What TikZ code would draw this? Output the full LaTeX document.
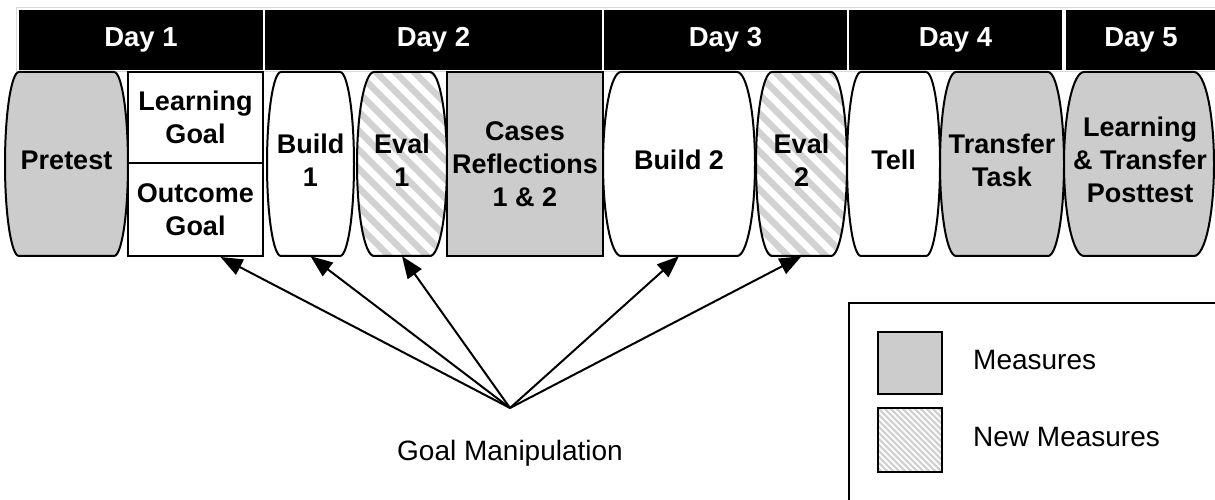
\documentclass[tikz,border=0pt]{standalone}
\usepackage{fontspec}
\setmainfont{Liberation Sans}
\usetikzlibrary{arrows.meta}
\definecolor{measgray}{HTML}{CCCCCC}
\definecolor{stripegray}{HTML}{D2D2D2}
\definecolor{hdrline}{HTML}{D8D8D8}
% barrel outline: #1 left, #2 right, #3 corner inset, #4 path options
\newcommand\brl[4]{\path[#4] ({#1+#3},428) -- ({#2-#3},428) arc[start angle=90,end angle=-90,x radius=#3,y radius=92] -- ({#1+#3},244) arc[start angle=270,end angle=90,x radius=#3,y radius=92] -- cycle;}
\newcommand\hatchbrl[3]{%
  \begin{scope}
    \clip ({#1+#3},428) -- ({#2-#3},428) arc[start angle=90,end angle=-90,x radius=#3,y radius=92] -- ({#1+#3},244) arc[start angle=270,end angle=90,x radius=#3,y radius=92] -- cycle;
    \foreach \k in {0,...,17}{\draw[stripe] ({#1-200+\k*19},438) -- ++(200,-200);}
  \end{scope}
  \brl{#1}{#2}{#3}{draw=black, line width=2pt}}
\tikzset{
  outl/.style={draw=black, line width=2pt},
  stripe/.style={stripegray, line width=6.5pt},
  finestripe/.style={stripegray, line width=2.2pt},
  lbl/.style={font=\bfseries\fontsize{27}{33}\selectfont, align=center, inner sep=0pt, minimum height=192pt},
  daybox/.style={fill=black, text=white, font=\bfseries\fontsize{27.5}{30}\selectfont, minimum height=60pt, inner sep=0pt},
  rbox/.style={draw=black, line width=2pt, font=\bfseries\fontsize{27}{33}\selectfont, align=center, inner sep=0pt},
  plain/.style={font=\fontsize{28}{30}\selectfont, inner sep=0pt},
  arr/.style={line width=2pt, -{Triangle[length=22pt,width=17pt]}}
}
\begin{document}
\begin{tikzpicture}[x=1pt,y=1pt]
\clip (0,0) rectangle (1215,500);
\fill[white] (0,0) rectangle (1215,500);
% header
\draw[hdrline, line width=1pt] (16,492) rectangle (1230,428.5);
\node[daybox, minimum width=244pt] (d1) at (141,460) {Day 1};
\node[daybox, minimum width=337pt] (d2) at (433.5,460) {Day 2};
\node[daybox, minimum width=243pt] (d3) at (725.5,460) {Day 3};
\node[daybox, minimum width=213pt] (d4) at (955.5,460) {Day 4};
\node[daybox, minimum width=150pt] (d5) at (1141,460) {Day 5};
% body shapes
\brl{5}{128}{14}{outl, fill=measgray}
\brl{267}{354}{14}{outl, fill=white}
\hatchbrl{357}{447}{17}
\brl{603}{755}{18}{outl, fill=white}
\hatchbrl{756}{847}{16}
\brl{847}{940}{14}{outl, fill=white}
\brl{940}{1064}{16}{outl, fill=measgray}
\brl{1064}{1214}{20}{outl, fill=measgray}
% rectangles
\node[rbox, fill=white, minimum width=135pt, minimum height=91pt] (lgoal) at (195.5,382.5) {Learning\\Goal};
\node[rbox, fill=white, minimum width=135pt, minimum height=93pt] (ogoal) at (195.5,290.5) {Outcome\\Goal};
\node[rbox, fill=measgray, minimum width=156pt, minimum height=184pt] (cases) at (525,336) {Cases\\Reflections\\1 \& 2};
% labels
\node[lbl, minimum width=123pt] (pretest) at (66.5,340) {Pretest};
\node[lbl, minimum width=87pt] (build1) at (310.5,340) {Build\\1};
\node[lbl, minimum width=90pt] (eval1) at (402,340) {Eval\\1};
\node[lbl, minimum width=152pt] (build2) at (679,340) {Build 2};
\node[lbl, minimum width=91pt] (eval2) at (801.5,340) {Eval\\2};
\node[lbl, minimum width=93pt] (tell) at (893.5,340) {Tell};
\node[lbl, minimum width=124pt] (transfer) at (1002,340) {Transfer\\Task};
\node[lbl, minimum width=150pt] (posttest) at (1140,340) {Learning\\\& Transfer\\Posttest};
% goal manipulation
\coordinate (gm) at (510,92);
\node[plain] (gmlabel) at (510,47) {Goal Manipulation};
\draw[arr] (gm) -- ([xshift=25pt]ogoal.south);
\draw[arr] (gm) -- (build1.south);
\draw[arr] (gm) -- (eval1.south);
\draw[arr] (gm) -- (build2.south);
\draw[arr] (gm) -- (eval2.south);
% legend
\node[draw=black, line width=2pt, minimum width=400pt, minimum height=240pt, anchor=north west, inner sep=0pt] (legend) at (848,198) {};
\node[draw=black, line width=2.5pt, fill=measgray, minimum width=64pt, minimum height=62pt, inner sep=0pt] (sqm) at (910,137) {};
\begin{scope}
  \clip (878,92) rectangle (942,28);
  \foreach \k in {0,...,24}{\draw[finestripe] ({878-70+\k*6},96) -- ++(72,-72);}
\end{scope}
\node[draw=black, line width=2.5pt, minimum width=64pt, minimum height=64pt, inner sep=0pt] (sqn) at (910,60) {};
\node[plain, anchor=west] (lm) at (973,140) {Measures};
\node[plain, anchor=west] (ln) at (973,63) {New Measures};
\end{tikzpicture}
\end{document}
